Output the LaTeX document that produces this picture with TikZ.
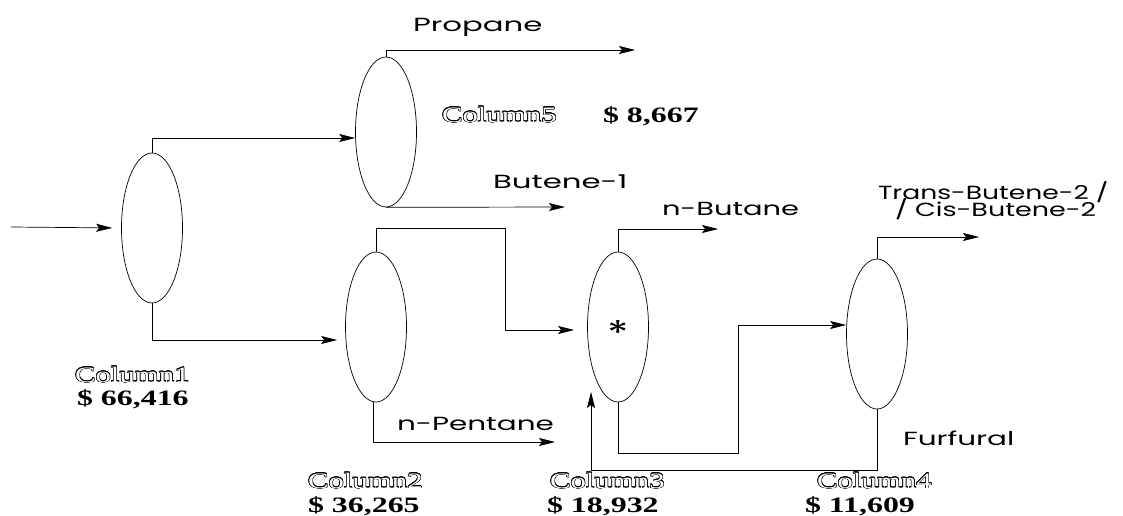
\documentclass[tikz,border=0pt]{standalone}
\usepackage{fontspec}
\usepackage{graphicx}
\usepackage{xcolor}
\usepackage{contour}
\usepackage{tikz}
\usetikzlibrary{arrows.meta}
\usetikzlibrary{shapes.geometric}

\newfontfamily\streamfont{Poppins}
\newfontfamily\serfont{Liberation Serif}
\contourlength{0.4pt}

% stretched text, as in the scanned flowsheet
\newcommand{\stream}[2][1.62]{\scalebox{#1}[1]{\streamfont\fontsize{19}{22}\selectfont #2}}
\newcommand{\colname}[1]{\scalebox{1.4}[1]{\serfont\fontsize{22}{24}\selectfont\contour{black}{\textcolor{white}{#1}}}}
\newcommand{\cost}[1]{\scalebox{1.45}[1]{\serfont\bfseries\fontsize{22}{24}\selectfont #1}}

\tikzset{
  column/.style={draw, ellipse, line width=0.7pt, minimum width=61pt, minimum height=150pt, inner sep=0pt},
  flow/.style={draw, line width=0.7pt, -{Stealth[length=16pt,width=8pt,inset=3pt]}},
  lbl/.style={anchor=base west, inner sep=0pt, outer sep=0pt}
}

\begin{document}
\begin{tikzpicture}[x=1pt,y=-1pt]
  \useasboundingbox (0,0) rectangle (1123,516);

  % the five columns
  \node[column] (c1) at (152,228) {};
  \node[column] (c5) at (386,132) {};
  \node[column] (c2) at (376,327) {};
  \node[column] (c3) at (618,327) {};
  \node[column] (c4) at (877,334) {};
  \node[inner sep=0pt] (star) at (618,333) {\scalebox{1.3}[1]{\streamfont\fontsize{34}{34}\selectfont *}};

  % free ends and bends of the streams
  \coordinate (feed)    at (11,227);
  \coordinate (propane) at (635,50);
  \coordinate (butene)  at (565,207);
  \coordinate (t2)      at (505,228);
  \coordinate (pentane) at (555,442);
  \coordinate (butane)  at (718,229);
  \coordinate (t34)     at (738,453);
  \coordinate (trans)   at (979,237);
  \coordinate (t43)     at (591,470);
  \coordinate (recycle) at (591,392);

  % streams
  \draw[flow, shorten >=9pt] (feed) -- (c1.west);
  \draw[flow] (c1.north) |- ([yshift=-6pt]c5.west);
  \draw[flow, shorten >=8pt] (c1.south) |- ([yshift=-13pt]c2.west);
  \draw[flow] (c5.north) |- (propane);
  \draw[flow] (c5.south) -- (butene);
  \draw[flow, shorten >=13pt] (c2.north) |- (t2) |- ([yshift=-3pt]c3.west);
  \draw[flow] ([xshift=-3pt]c2.south) |- (pentane);
  \draw[flow] (c3.north) |- (butane);
  \draw[flow] (c3.south) |- (t34) |- ([yshift=9pt]c4.west);
  \draw[flow] (c4.north) |- (trans);
  \draw[flow] (c4.south) |- (t43) -- (recycle);

  % stream names
  \node[lbl] (lpropane) at (413,32)  {\stream{Propane}};
  \node[lbl] (lbutene)  at (493,188) {\stream{Butene-1}};
  \node[lbl] (lbutane)  at (662,215) {\stream[1.52]{n-Butane}};
  \node[lbl] (ltrans)   at (878,199) {\stream[1.4]{Trans-Butene-2 /}};
  \node[lbl] (lcis)     at (895,216) {\stream[1.42]{/ Cis-Butene-2}};
  \node[lbl] (lpentane) at (397,430) {\stream[1.55]{n-Pentane}};
  \node[lbl] (lfurfural) at (903,445) {\stream[1.55]{Furfural}};

  % column names and costs
  \node[lbl] (n1) at (75,382)  {\colname{Column1}};
  \node[lbl] (k1) at (77,405)  {\cost{\$ 66,416}};
  \node[lbl] (n5) at (442,122) {\colname{Column5}};
  \node[lbl] (k5) at (603,122) {\cost{\$ 8,667}};
  \node[lbl] (n2) at (308,488) {\colname{Column2}};
  \node[lbl] (k2) at (308,512) {\cost{\$ 36,265}};
  \node[lbl] (n3) at (550,488) {\colname{Column3}};
  \node[lbl] (k3) at (547,512) {\cost{\$ 18,932}};
  \node[lbl] (n4) at (817,488) {\colname{Column4}};
  \node[lbl] (k4) at (805,512) {\cost{\$ 11,609}};
\end{tikzpicture}
\end{document}
